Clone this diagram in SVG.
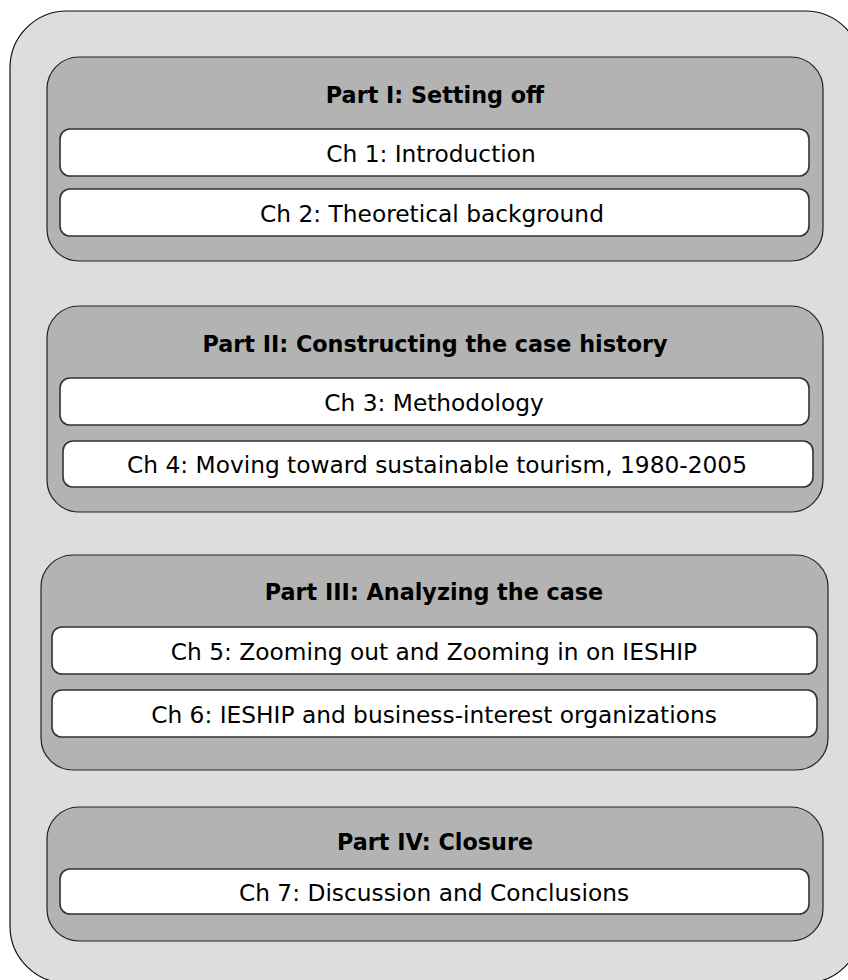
<svg xmlns="http://www.w3.org/2000/svg" width="848" height="980" viewBox="0 0 848 980">
  <style>
    .frame { fill: #dddddd; stroke: #111111; stroke-width: 1.2; }
    .part { fill: #b3b3b3; stroke: #222222; stroke-width: 1.2; }
    .chap { fill: #ffffff; stroke: #333333; stroke-width: 1.6; }
    .title { font-family: "DejaVu Sans", Verdana, sans-serif; font-size: 22.3px; font-weight: bold; fill: #000000; text-anchor: middle; }
    .label { font-family: "DejaVu Sans", Verdana, sans-serif; font-size: 23.3px; fill: #000000; text-anchor: middle; }
  </style>

  <!-- outer frame -->
  <rect class="frame" x="10" y="11" width="852" height="972" rx="57" ry="57"/>

  <!-- Part I -->
  <g id="part1">
    <rect class="part" x="47" y="57" width="776" height="204" rx="32" ry="32"/>
    <text class="title" x="435" y="103">Part I: Setting off</text>
    <g id="ch1">
      <rect class="chap" x="60" y="129" width="749" height="47" rx="10" ry="10"/>
      <text class="label" x="431" y="162">Ch 1: Introduction</text>
    </g>
    <g id="ch2">
      <rect class="chap" x="60" y="189" width="749" height="47" rx="10" ry="10"/>
      <text class="label" x="432" y="222">Ch 2: Theoretical background</text>
    </g>
  </g>

  <!-- Part II -->
  <g id="part2">
    <rect class="part" x="47" y="306" width="776" height="206" rx="32" ry="32"/>
    <text class="title" x="435" y="352">Part II: Constructing the case history</text>
    <g id="ch3">
      <rect class="chap" x="60" y="378" width="749" height="47" rx="10" ry="10"/>
      <text class="label" x="434" y="411">Ch 3: Methodology</text>
    </g>
    <g id="ch4">
      <rect class="chap" x="63" y="441" width="750" height="46" rx="10" ry="10"/>
      <text class="label" x="437" y="473">Ch 4: Moving toward sustainable tourism, 1980-2005</text>
    </g>
  </g>

  <!-- Part III -->
  <g id="part3">
    <rect class="part" x="41" y="555" width="787" height="215" rx="32" ry="32"/>
    <text class="title" x="434" y="600">Part III: Analyzing the case</text>
    <g id="ch5">
      <rect class="chap" x="52" y="627" width="765" height="47" rx="10" ry="10"/>
      <text class="label" x="434" y="660">Ch 5: Zooming out and Zooming in on IESHIP</text>
    </g>
    <g id="ch6">
      <rect class="chap" x="52" y="690" width="765" height="47" rx="10" ry="10"/>
      <text class="label" x="434" y="723">Ch 6: IESHIP and business-interest organizations</text>
    </g>
  </g>

  <!-- Part IV -->
  <g id="part4">
    <rect class="part" x="47" y="807" width="776" height="134" rx="32" ry="32"/>
    <text class="title" x="435" y="850">Part IV: Closure</text>
    <g id="ch7">
      <rect class="chap" x="60" y="869" width="749" height="45" rx="10" ry="10"/>
      <text class="label" x="434" y="901">Ch 7: Discussion and Conclusions</text>
    </g>
  </g>

  <!-- no connectors in this layout -->
  <g id="connectors"/>
</svg>
